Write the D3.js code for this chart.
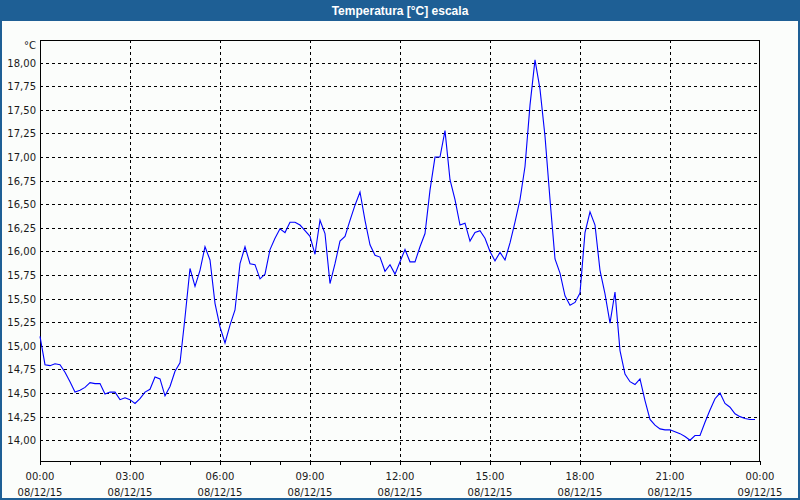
<!DOCTYPE html>
<html>
<head>
<meta charset="utf-8">
<script src="https://cdn.jsdelivr.net/npm/d3@7"></script>
<style>
  html, body { margin: 0; padding: 0; background: #fbfdfb; }
  svg { display: block; }
</style>
</head>
<body>
<svg id="chart" width="800" height="500"></svg>
<script>
// ---- data ----
const title = "Temperatura [°C] escala";
const unit = "°C";
const startTime = new Date(2015, 11, 8, 0, 0);
const endTime = new Date(2015, 11, 9, 0, 0);
const sampleMinutes = 10;
const temperature = [
  15.10, 14.80, 14.79, 14.81, 14.80, 14.72, 14.62, 14.51, 14.53, 14.56,
  14.61, 14.60, 14.60, 14.49, 14.51, 14.51, 14.43, 14.45, 14.43, 14.39,
  14.44, 14.51, 14.54, 14.67, 14.65, 14.47, 14.57, 14.73, 14.82, 15.30,
  15.82, 15.63, 15.80, 16.05, 15.91, 15.45, 15.20, 15.03, 15.22, 15.38,
  15.87, 16.05, 15.87, 15.86, 15.71, 15.76, 16.02, 16.14, 16.24, 16.20,
  16.31, 16.31, 16.28, 16.22, 16.16, 15.97, 16.33, 16.19, 15.66, 15.87,
  16.11, 16.16, 16.33, 16.49, 16.63, 16.33, 16.07, 15.96, 15.94, 15.79,
  15.86, 15.76, 15.89, 16.02, 15.89, 15.89, 16.05, 16.19, 16.65, 17.00,
  17.00, 17.28, 16.76, 16.55, 16.28, 16.30, 16.11, 16.20, 16.22, 16.14,
  16.00, 15.90, 15.99, 15.91, 16.09, 16.31, 16.55, 16.90, 17.55, 18.03,
  17.72, 17.22, 16.55, 15.92, 15.77, 15.53, 15.43, 15.46, 15.56, 16.20,
  16.42, 16.28, 15.80, 15.55, 15.24, 15.57, 14.95, 14.70, 14.62, 14.59,
  14.65, 14.42, 14.22, 14.16, 14.12, 14.11, 14.11, 14.09, 14.07, 14.04,
  14.00, 14.05, 14.05, 14.19, 14.32, 14.44, 14.50, 14.39, 14.35, 14.28,
  14.25, 14.23, 14.22, 14.22
];
const yTicks = [14.00, 14.25, 14.50, 14.75, 15.00, 15.25, 15.50, 15.75, 16.00,
                16.25, 16.50, 16.75, 17.00, 17.25, 17.50, 17.75, 18.00];
const xLabelHours = [0, 3, 6, 9, 12, 15, 18, 21, 24];
const yDomain = [13.78, 18.24];

// ---- build ----
const W = 800, H = 500;
const plot = { left: 40, right: 760, top: 40, bottom: 461 };
const svg = d3.select("#chart");

const data = temperature.map((v, i) => ({
  t: d3.timeMinute.offset(startTime, i * sampleMinutes), v
}));

const x = d3.scaleTime().domain([startTime, endTime]).range([plot.left, plot.right]);
const y = d3.scaleLinear().domain(yDomain).range([plot.bottom, plot.top]);

const locale = d3.formatLocale({ decimal: ",", thousands: ".", grouping: [3], currency: ["", "€"] });
const fmt = locale.format(".2f");
const fmtTime = d3.timeFormat("%H:%M");
const fmtDate = d3.timeFormat("%d/%m/%y");
const px = v => Math.round(v) + 0.5;

// background
svg.append("rect").attr("width", W).attr("height", H).attr("fill", "#fbfdfb");

// title bar
svg.append("rect").attr("x", 0).attr("y", 0).attr("width", W).attr("height", 21).attr("fill", "#1e5f95");
svg.append("text").attr("x", W / 2).attr("y", 15).attr("text-anchor", "middle")
  .attr("fill", "#ffffff").attr("font-family", "'Liberation Sans', Arial, sans-serif")
  .attr("font-weight", "bold").attr("font-size", 12).text(title);

// outer border
svg.append("rect").attr("x", 1).attr("y", 1).attr("width", W - 2).attr("height", H - 2)
  .attr("fill", "none").attr("stroke", "#1e5f95").attr("stroke-width", 2);

// grid
const grid = svg.append("g").attr("stroke", "#000").attr("stroke-dasharray", "3,3")
  .attr("shape-rendering", "crispEdges");
grid.selectAll("line.h").data(yTicks).join("line").attr("class", "h")
  .attr("x1", plot.left).attr("x2", plot.right)
  .attr("y1", d => px(y(d))).attr("y2", d => px(y(d)));
const vHours = xLabelHours.filter(h => h > 0 && h < 24);
grid.selectAll("line.v").data(vHours).join("line").attr("class", "v")
  .attr("x1", h => px(x(d3.timeHour.offset(startTime, h)))).attr("x2", h => px(x(d3.timeHour.offset(startTime, h))))
  .attr("y1", plot.top).attr("y2", plot.bottom);

// frame
svg.append("rect").attr("x", plot.left + 0.5).attr("y", plot.top + 0.5)
  .attr("width", plot.right - plot.left - 1).attr("height", plot.bottom - plot.top)
  .attr("fill", "none").attr("stroke", "#000").attr("shape-rendering", "crispEdges");

// y labels
const font = "'DejaVu Sans', Verdana, sans-serif";
svg.append("g").selectAll("text").data(yTicks).join("text")
  .attr("x", 36).attr("y", d => y(d) + 4).attr("text-anchor", "end")
  .attr("font-family", font).attr("font-size", 10).attr("fill", "#1a1a1a")
  .text(d => fmt(d));
svg.append("text").attr("x", 36).attr("y", 49).attr("text-anchor", "end")
  .attr("font-family", font).attr("font-size", 10).attr("fill", "#1a1a1a").text(unit);

// x axis ticks (hourly)
const xAxis = d3.axisBottom(x).ticks(d3.timeHour.every(1)).tickSize(4).tickSizeOuter(0).tickFormat("");
const gx = svg.append("g").attr("transform", `translate(0,${plot.bottom})`).call(xAxis);
gx.select(".domain").remove();
gx.selectAll(".tick line").attr("stroke", "#000").attr("shape-rendering", "crispEdges");

// x labels
const labels = svg.append("g").attr("font-family", font).attr("font-size", 10)
  .attr("fill", "#1a1a1a").attr("text-anchor", "middle");
xLabelHours.forEach(h => {
  const t = d3.timeHour.offset(startTime, h);
  labels.append("text").attr("x", x(t)).attr("y", 480).text(fmtTime(t));
  labels.append("text").attr("x", x(t)).attr("y", 496).text(fmtDate(t));
});

// line
const line = d3.line().x(d => x(d.t)).y(d => y(d.v));
svg.append("path").datum(data).attr("d", line)
  .attr("fill", "none").attr("stroke", "#0000ff").attr("stroke-width", 1.1);
</script>
</body>
</html>
